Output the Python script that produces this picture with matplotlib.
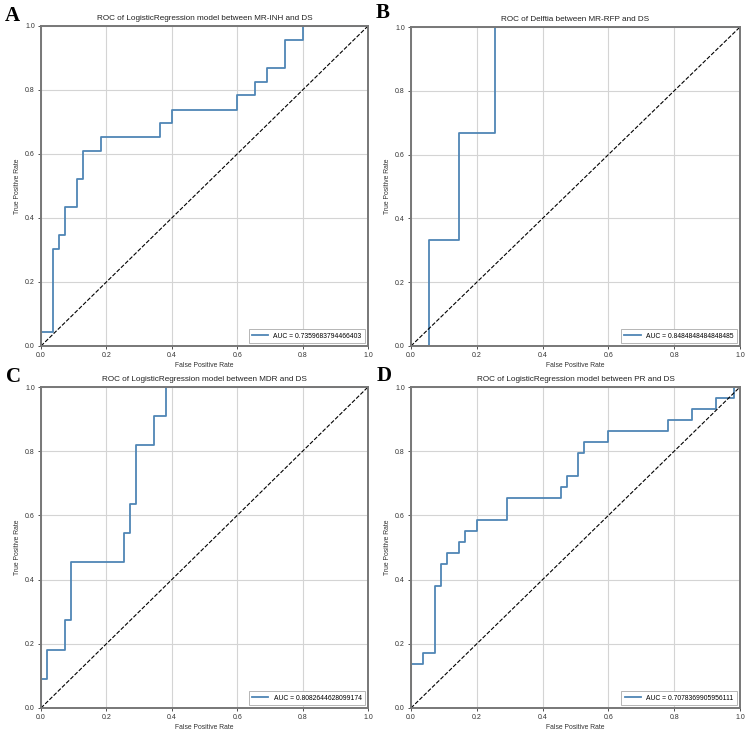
import numpy as np
import matplotlib
matplotlib.use("Agg")
import matplotlib.pyplot as plt

plt.rcParams['font.family'] = ['Liberation Sans', 'DejaVu Sans']

# ROC vertices
fpr_a = [0, 0, 0.036, 0.036, 0.055, 0.055, 0.073, 0.073, 0.109, 0.109, 0.127, 0.127,
         0.182, 0.182, 0.364, 0.364, 0.4, 0.4, 0.6, 0.6, 0.655, 0.655, 0.691, 0.691,
         0.745, 0.745, 0.8, 0.8, 1.0]
tpr_a = [0, 0.043, 0.043, 0.304, 0.304, 0.348, 0.348, 0.435, 0.435, 0.522, 0.522, 0.609,
         0.609, 0.652, 0.652, 0.696, 0.696, 0.739, 0.739, 0.783, 0.783, 0.826, 0.826, 0.870,
         0.870, 0.957, 0.957, 1.0, 1.0]

fpr_b = [0, 0.055, 0.055, 0.145, 0.145, 0.255, 0.255, 1.0]
tpr_b = [0, 0, 0.333, 0.333, 0.667, 0.667, 1.0, 1.0]

fpr_c = [0, 0, 0.018, 0.018, 0.073, 0.073, 0.091, 0.091, 0.255, 0.255, 0.273, 0.273,
         0.291, 0.291, 0.345, 0.345, 0.382, 0.382, 1.0]
tpr_c = [0, 0.091, 0.091, 0.182, 0.182, 0.273, 0.273, 0.455, 0.455, 0.545, 0.545, 0.636,
         0.636, 0.818, 0.818, 0.909, 0.909, 1.0, 1.0]

fpr_d = [0, 0, 0, 0.036, 0.036, 0.073, 0.073, 0.091, 0.091, 0.109, 0.109, 0.145, 0.145,
         0.164, 0.164, 0.2, 0.2, 0.291, 0.291, 0.455, 0.455, 0.473, 0.473, 0.509, 0.509,
         0.527, 0.527, 0.6, 0.6, 0.782, 0.782, 0.855, 0.855, 0.927, 0.927, 0.982, 0.982, 1.0]
tpr_d = [0, 0.034, 0.138, 0.138, 0.172, 0.172, 0.379, 0.379, 0.448, 0.448, 0.483, 0.483,
         0.517, 0.517, 0.552, 0.552, 0.586, 0.586, 0.655, 0.655, 0.690, 0.690, 0.724, 0.724,
         0.793, 0.793, 0.828, 0.828, 0.862, 0.862, 0.897, 0.897, 0.931, 0.931, 0.966, 0.966,
         1.0, 1.0]

aucs = ["0.7359683794466403", "0.8484848484848485", "0.8082644628099174", "0.7078369905956111"]
titles = ["ROC of LogisticRegression model between MR-INH and DS",
          "ROC of Delftia between MR-RFP and DS",
          "ROC of LogisticRegression model between MDR and DS",
          "ROC of LogisticRegression model between PR and DS"]
letters = ["A", "B", "C", "D"]
curves = [(fpr_a, tpr_a), (fpr_b, tpr_b), (fpr_c, tpr_c), (fpr_d, tpr_d)]

W, H = 747, 731
# axes boxes in pixels: left, top, right, bottom
boxes = [(41, 26, 368, 346), (411, 27, 740, 346),
         (41, 387, 368, 708), (411, 387, 740, 708)]
letter_pos = [(5, 6), (376, 3), (6, 367), (377, 366)]

fig = plt.figure(figsize=(W/100, H/100), dpi=100)

for i in range(4):
    l, t, r, b = boxes[i]
    ax = fig.add_axes([l/W, (H-b)/H, (r-l)/W, (b-t)/H])
    fpr, tpr = curves[i]
    ax.plot(fpr, tpr, color='#4f86b5', lw=1.3, label='AUC = ' + aucs[i])
    ax.plot([0, 1], [0, 1], 'k--', lw=0.8)
    ax.set_xlim(0, 1)
    ax.set_ylim(0, 1)
    ax.set_xticks(np.arange(0, 1.01, 0.2))
    ax.set_yticks(np.arange(0, 1.01, 0.2))
    ax.grid(True, color='#d4d4d4', lw=0.8)
    ax.tick_params(labelsize=5.0, length=2.5, width=0.6, pad=2, colors='#333333')
    ax.set_xlabel('False Positive Rate', fontsize=4.9, labelpad=2, color='#333333')
    ax.set_ylabel('True Positive Rate', fontsize=4.9, labelpad=3, color='#333333')
    ax.set_title(titles[i], fontsize=5.9, pad=4, color='#222222')
    for s in ax.spines.values():
        s.set_color('#777777')
        s.set_linewidth(1.4)
    leg = ax.legend(loc='lower right', fontsize=4.9, handlelength=2.4,
                    borderpad=0.45, fancybox=False, framealpha=1)
    leg.get_frame().set_edgecolor('#aaaaaa')
    leg.get_frame().set_linewidth(0.6)
    lx, ly = letter_pos[i]
    fig.text(lx/W, 1 - ly/H, letters[i], ha='left', va='top', fontsize=15,
             fontweight='bold', family='Liberation Serif')

fig.savefig('out.png', dpi=100)
